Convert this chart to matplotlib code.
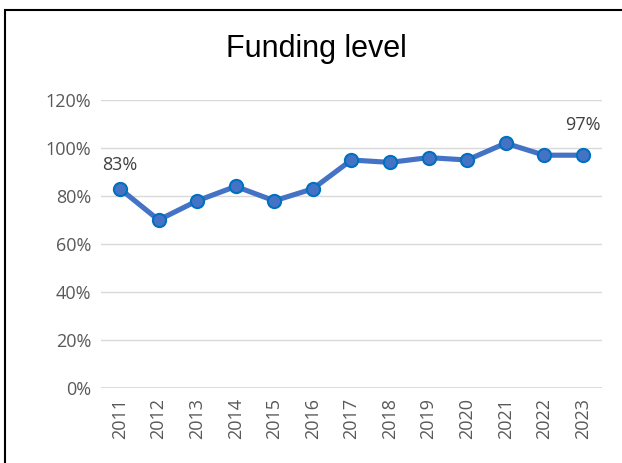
import matplotlib.pyplot as plt
from matplotlib.patches import Rectangle

years = ['2011', '2012', '2013', '2014', '2015', '2016', '2017',
         '2018', '2019', '2020', '2021', '2022', '2023']
funding = [83, 70, 78, 84, 78, 83, 95, 94, 96, 95, 102, 97, 97]
yticks = [0, 20, 40, 60, 80, 100, 120]

fig = plt.figure(figsize=(6.22, 4.63), dpi=100)
ax = fig.add_axes([0.162, 0.162, 0.806, 0.622])

x = list(range(len(years)))
ax.plot(x, funding, color='#4472C4', lw=3.7, marker='o', ms=9.5,
        mfc='#4472C4', mec='#0070C0', mew=1.5, zorder=3)

# labels on first and last point
for i, off in [(0, 11), (len(x) - 1, 15)]:
    ax.annotate(f'{funding[i]}%', (x[i], funding[i]), xytext=(0, off),
                textcoords='offset points', ha='center', va='bottom',
                fontsize=13, color='#404040', family='Open Sans')

ax.set_xlim(-0.5, len(x) - 0.5)
ax.set_ylim(0, 120)
ax.set_yticks(yticks)
ax.set_yticklabels([f'{v}%' for v in yticks], family='Open Sans', fontsize=13, color='#595959')
ax.set_xticks(x)
ax.set_xticklabels(years, rotation=90, family='Open Sans', fontsize=13, color='#595959')
ax.tick_params(length=0, pad=7)
ax.grid(axis='y', color='#D9D9D9', lw=1)
ax.axhline(0, color='#D9D9D9', lw=1.2, zorder=0)
ax.set_axisbelow(True)
for s in ax.spines.values():
    s.set_visible(False)

fig.text(0.508, 0.895, 'Funding level', ha='center', va='center',
         fontsize=22, family='Liberation Sans', color='black')

fig.patches.append(Rectangle((5 / 622, -0.01), 1.0, 1 - 10 / 463 + 0.01,
                             transform=fig.transFigure, fill=False,
                             ec='black', lw=1.5))

plt.savefig('out.png', dpi=100)
